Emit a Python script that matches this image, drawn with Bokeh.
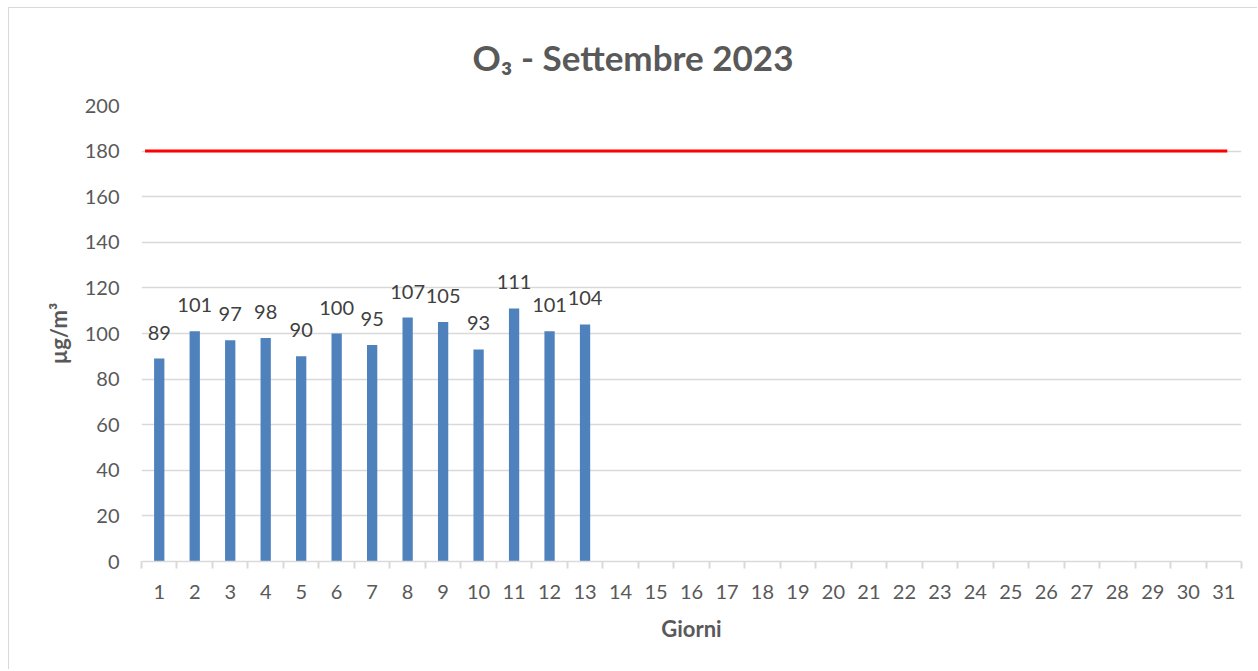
from bokeh.plotting import figure
from bokeh.models import ColumnDataSource, FixedTicker, LabelSet, Range1d, Title
from bokeh.core.properties import value
from bokeh.embed import file_html
from bokeh.resources import INLINE

# ---- data ----
days = list(range(1, 32))
bar_days = list(range(1, 14))
o3_values = [89, 101, 97, 98, 90, 100, 95, 107, 105, 93, 111, 101, 104]
limit_x = [0.6, 31.1]
limit_y = [180, 180]
y_ticks = list(range(0, 201, 20))
title_text = "O\u2083 - Settembre 2023"

FONT = "Lato"
TXT = "#595959"
GRID = "#d9d9d9"

p = figure(width=1249, height=662, output_backend="svg", toolbar_location=None,
           x_range=Range1d(0.5, 31.5), y_range=Range1d(0, 200),
           min_border_left=132, min_border_right=17, min_border_top=97,
           min_border_bottom=109,
           styles={"margin-left": "8px", "margin-top": "7px",
                   "border-left": "1px solid #d9d9d9", "border-top": "1px solid #d9d9d9"})
p.outline_line_color = None
p.background_fill_color = "white"
p.border_fill_color = "white"

p.title = Title(text=title_text, align="left", offset=331, text_font=FONT,
                text_font_style="bold", text_font_size="35px", text_color=TXT,
                vertical_align="top", standoff=52)

src = ColumnDataSource(dict(x=bar_days, top=o3_values, lab=[str(v) for v in o3_values]))
p.vbar(x="x", top="top", width=0.29, source=src, fill_color="#4f81bd", line_color=None)
p.line(limit_x, limit_y, line_color="#ff0000", line_width=3)

labels = LabelSet(x="x", y="top", text="lab", source=src, text_align="center",
                  text_baseline="bottom", y_offset=19, text_font=value(FONT),
                  text_font_size="20px", text_color="#404040")
p.add_layout(labels)

# x axis
xax = p.below[0]
xax.ticker = FixedTicker(ticks=days, minor_ticks=[d + 0.5 for d in range(0, 32)])
xax.axis_line_color = GRID
xax.axis_line_width = 1.5
xax.major_tick_line_color = None
xax.major_tick_out = 0
xax.major_tick_in = 0
xax.minor_tick_line_color = GRID
xax.minor_tick_out = 7
xax.minor_tick_in = 0
xax.minor_tick_line_width = 2
xax.major_label_standoff = 16
xax.major_label_text_font = FONT
xax.major_label_text_font_size = "20px"
xax.major_label_text_color = TXT
xax.axis_label = "Giorni"
xax.axis_label_text_font = FONT
xax.axis_label_text_font_style = "bold"
xax.axis_label_text_font_size = "22px"
xax.axis_label_text_color = TXT
xax.axis_label_standoff = 13

# y axis
p.yaxis.ticker = FixedTicker(ticks=y_ticks)
p.yaxis.axis_line_color = None
p.yaxis.major_tick_line_color = None
p.yaxis.minor_tick_line_color = None
p.yaxis.major_tick_out = 0
p.yaxis.major_label_standoff = 22
p.yaxis.major_label_text_font = FONT
p.yaxis.major_label_text_font_size = "20px"
p.yaxis.major_label_text_color = TXT
p.yaxis.axis_label = "µg/m³"
p.yaxis.axis_label_text_font = FONT
p.yaxis.axis_label_text_font_style = "bold"
p.yaxis.axis_label_text_font_size = "22px"
p.yaxis.axis_label_text_color = TXT
p.yaxis.axis_label_standoff = 10

p.xgrid.grid_line_color = None
p.ygrid.ticker = FixedTicker(ticks=y_ticks)
p.ygrid.grid_line_color = GRID
p.ygrid.grid_line_width = 1.5

open("out.html", "w").write(file_html(p, INLINE))
